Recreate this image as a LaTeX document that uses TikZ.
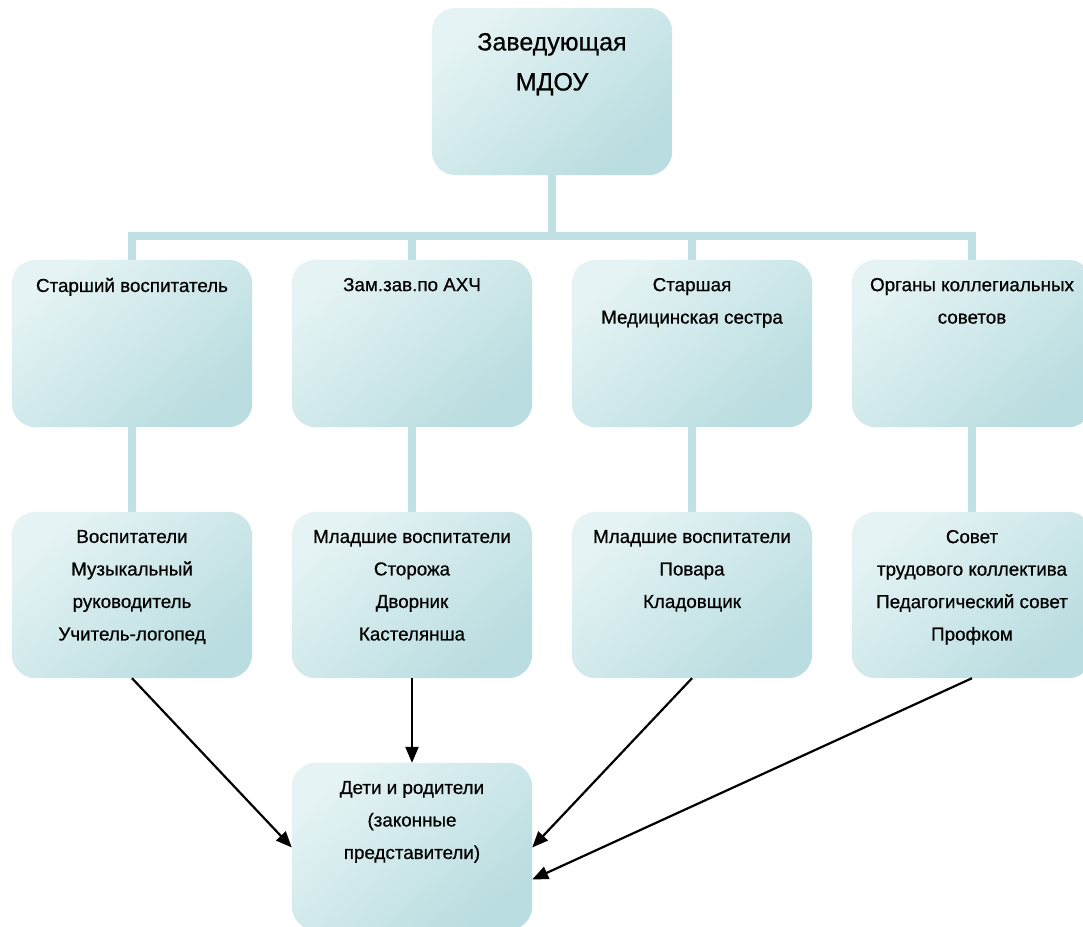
\documentclass[tikz,border=0pt]{standalone}
\usepackage{fontspec}
\setmainfont{Liberation Sans}
\newfontfamily\heavyfont{Liberation Sans}[FakeBold=0.6]
\usetikzlibrary{arrows.meta}
\definecolor{cLight}{HTML}{E5F3F4}
\definecolor{cDark}{HTML}{B9DDE0}
\definecolor{cLine}{HTML}{BFE1E4}
\begin{document}
\begin{tikzpicture}[x=1pt,y=1pt,
  box/.style={minimum width=240pt, minimum height=167pt, inner sep=0pt},
  boxfill/.style={rounded corners=24pt, top color=cLight, middle color=cLight!70!cDark, bottom color=cDark, shading angle=40},
  txt/.style={align=center, inner sep=0pt, anchor=north, font=\heavyfont\fontsize{18.8}{32.5}\selectfont},
  conn/.style={draw=cLine, line width=8pt},
  arr/.style={draw=black, line width=2.2pt, -{Triangle[length=16pt,width=13pt]}}]
\useasboundingbox (0,0) rectangle (1083,-926);
\clip (0,0) rectangle (1083,-926);
\fill[white] (0,0) rectangle (1083,-926);

% nodes (geometry)
\node[box] (top) at (552,-91.5) {};
\node[box] (r2a) at (132,-343.5) {};
\node[box] (r2b) at (412,-343.5) {};
\node[box] (r2c) at (692,-343.5) {};
\node[box] (r2d) at (972,-343.5) {};
\node[box, minimum height=166pt] (r3a) at (132,-595) {};
\node[box, minimum height=166pt] (r3b) at (412,-595) {};
\node[box, minimum height=166pt] (r3c) at (692,-595) {};
\node[box, minimum height=166pt] (r3d) at (972,-595) {};
\node[box] (bot) at (412,-846.5) {};

% connectors (behind boxes)
\coordinate (bus) at (552,-236);
\path[conn] (top.south) -- (bus);
\path[conn] (r2a.north) |- (bus) -| (r2d.north);
\path[conn] (r2b.north) -- (r2b.north |- bus);
\path[conn] (r2c.north) -- (r2c.north |- bus);
\path[conn] (r2a.south) -- (r3a.north);
\path[conn] (r2b.south) -- (r3b.north);
\path[conn] (r2c.south) -- (r3c.north);
\path[conn] (r2d.south) -- (r3d.north);

% box fills over connectors
\foreach \n in {top,r2a,r2b,r2c,r2d,r3a,r3b,r3c,r3d,bot}{
  \path[boxfill] (\n.south west) rectangle (\n.north east);
}

% texts
\node[txt, font=\heavyfont\fontsize{25}{40}\selectfont] (ttop) at ([yshift=-25pt]top.north) {Заведующая\\МДОУ};
\node[txt] (t2a) at ([yshift=-18pt]r2a.north) {Старший воспитатель};
\node[txt] (t2b) at ([yshift=-18pt]r2b.north) {Зам.зав.по АХЧ};
\node[txt] (t2c) at ([yshift=-18pt]r2c.north) {Старшая\\Медицинская сестра};
\node[txt] (t2d) at ([yshift=-18pt]r2d.north) {Органы коллегиальных\\советов};
\node[txt] (t3a) at ([yshift=-18pt]r3a.north) {Воспитатели\\Музыкальный\\руководитель\\Учитель-логопед};
\node[txt] (t3b) at ([yshift=-18pt]r3b.north) {Младшие воспитатели\\Сторожа\\Дворник\\Кастелянша};
\node[txt] (t3c) at ([yshift=-18pt]r3c.north) {Младшие воспитатели\\Повара\\Кладовщик};
\node[txt] (t3d) at ([yshift=-18pt]r3d.north) {Совет\\трудового коллектива\\Педагогический совет\\Профком};
\node[txt] (tbot) at ([yshift=-18pt]bot.north) {Дети и родители\\(законные\\представители)};

% arrows
\coordinate (e1) at ([yshift=-1pt]bot.west);
\coordinate (e3) at ([yshift=-1pt]bot.east);
\coordinate (e4) at ([yshift=-33pt]bot.east);
\draw[arr] (r3a.south) -- (e1);
\draw[arr] (r3b.south) -- (bot.north);
\draw[arr] (r3c.south) -- (e3);
\draw[arr] (r3d.south) -- (e4);
\end{tikzpicture}
\end{document}
